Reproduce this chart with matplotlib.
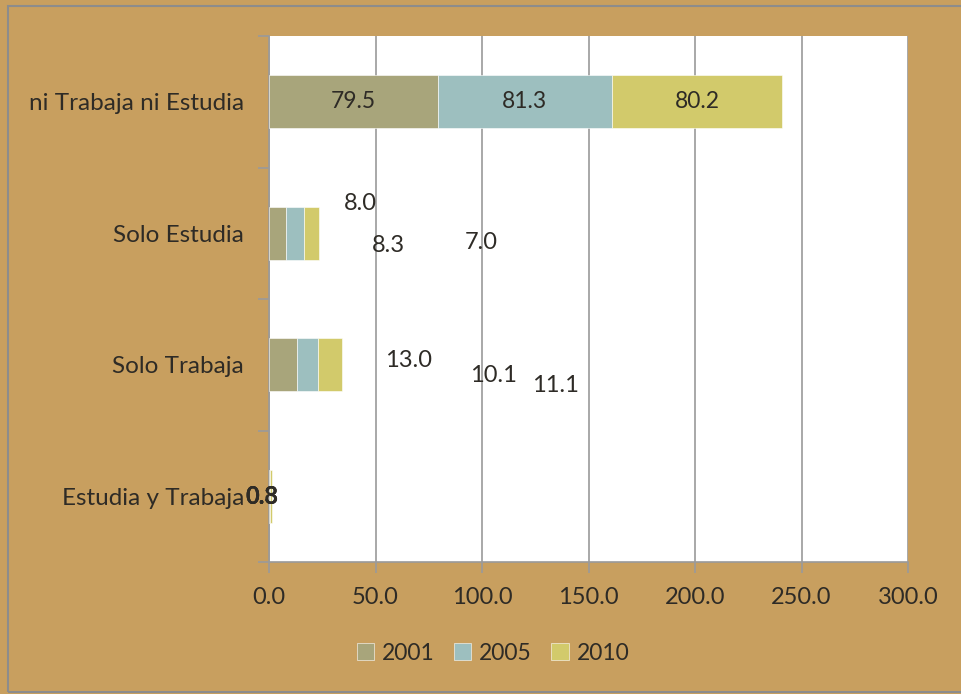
import matplotlib
matplotlib.use("Agg")
import matplotlib.pyplot as plt
from matplotlib.patches import Rectangle
import numpy as np

categories = ["Estudia y Trabaja", "Solo Trabaja", "Solo Estudia", "ni Trabaja ni Estudia"]
years = ["2001", "2005", "2010"]
v2001 = [0.3, 13.0, 8.0, 79.5]
v2005 = [0.3, 10.1, 8.3, 81.3]
v2010 = [0.8, 11.1, 7.0, 80.2]
xticks = [0, 50, 100, 150, 200, 250, 300]

# label placement (data coords) for the displaced labels of small bars; others centered in segment
label_pos = {
    (0, 0): (-3.3, 0.0), (0, 1): (-3.3, 0.0), (0, 2): (-3.3, 0.0),
    (1, 0): (65.3, 0.03), (1, 1): (105.6, -0.08), (1, 2): (134.7, -0.16),
    (2, 0): (42.7, 0.23), (2, 1): (55.9, -0.09), (2, 2): (99.5, -0.07),
}

colors = ["#A8A57B", "#9DBFBF", "#D2CA6B"]
bg = "#C89F5F"
txt = "#2E2B26"

plt.rcParams['font.family'] = ['Lato', 'DejaVu Sans']

fig = plt.figure(figsize=(9.61, 6.94), dpi=100, facecolor=bg)
# figure border
fig.patches.append(Rectangle((8/961, 2/694), 1.0, 1 - 8/694, transform=fig.transFigure,
                             fill=False, edgecolor="#8C8C8C", linewidth=1.5, zorder=10))

ax = fig.add_axes([269/961, (694-562)/694, 639/961, 526/694])
ax.set_facecolor("white")

y = np.arange(len(categories))
series = [v2001, v2005, v2010]
left = np.zeros(len(categories))
for si, (vals, c, lab) in enumerate(zip(series, colors, years)):
    vals = np.array(vals)
    ax.barh(y, vals, left=left, height=0.4, color=c, label=lab, zorder=3,
            edgecolor="white", linewidth=0.4)
    for ci in range(len(categories)):
        if (ci, si) in label_pos:
            lx, ly = label_pos[(ci, si)]
            fw = 'bold' if ci == 0 else 'normal'
            ax.text(lx, y[ci] + ly, f"{vals[ci]:.1f}", ha='center', va='center',
                    fontsize=17, color=txt, zorder=5, fontweight=fw, clip_on=False)
        else:
            ax.text(left[ci] + vals[ci] / 2, y[ci], f"{vals[ci]:.1f}", ha='center',
                    va='center', fontsize=16.5, color=txt, zorder=5)
    left = left + vals

ax.set_xlim(0, 300)
ax.set_ylim(-0.5, len(categories) - 0.5)
ax.set_xticks(xticks)
ax.set_xticklabels([f"{t:.1f}" for t in xticks], fontsize=17, color=txt)
ax.set_yticks(y)
ax.set_yticklabels(categories, fontsize=17.5, color=txt)
ax.set_yticks(np.arange(-0.5, len(categories), 1.0), minor=True)
ax.tick_params(axis='y', which='major', length=0, pad=18)
ax.tick_params(axis='y', which='minor', length=8, color="#9A9A9A", width=1.2)
ax.tick_params(axis='x', which='major', length=8, color="#9A9A9A", width=1.2, pad=10)
ax.grid(axis='x', color="#9A9A9A", linewidth=1.2, zorder=1)
for s in ['top', 'right']:
    ax.spines[s].set_visible(False)
for s in ['left', 'bottom']:
    ax.spines[s].set_color("#9A9A9A")
    ax.spines[s].set_linewidth(1.2)

leg = fig.legend(loc='center', bbox_to_anchor=(493/961, 1 - 653/694), ncol=3, frameon=False,
                 fontsize=16.5, handlelength=0.75, handleheight=0.75, columnspacing=0.85,
                 handletextpad=0.35)
for t in leg.get_texts():
    t.set_color(txt)

fig.savefig("out.png", dpi=100, facecolor=bg)
